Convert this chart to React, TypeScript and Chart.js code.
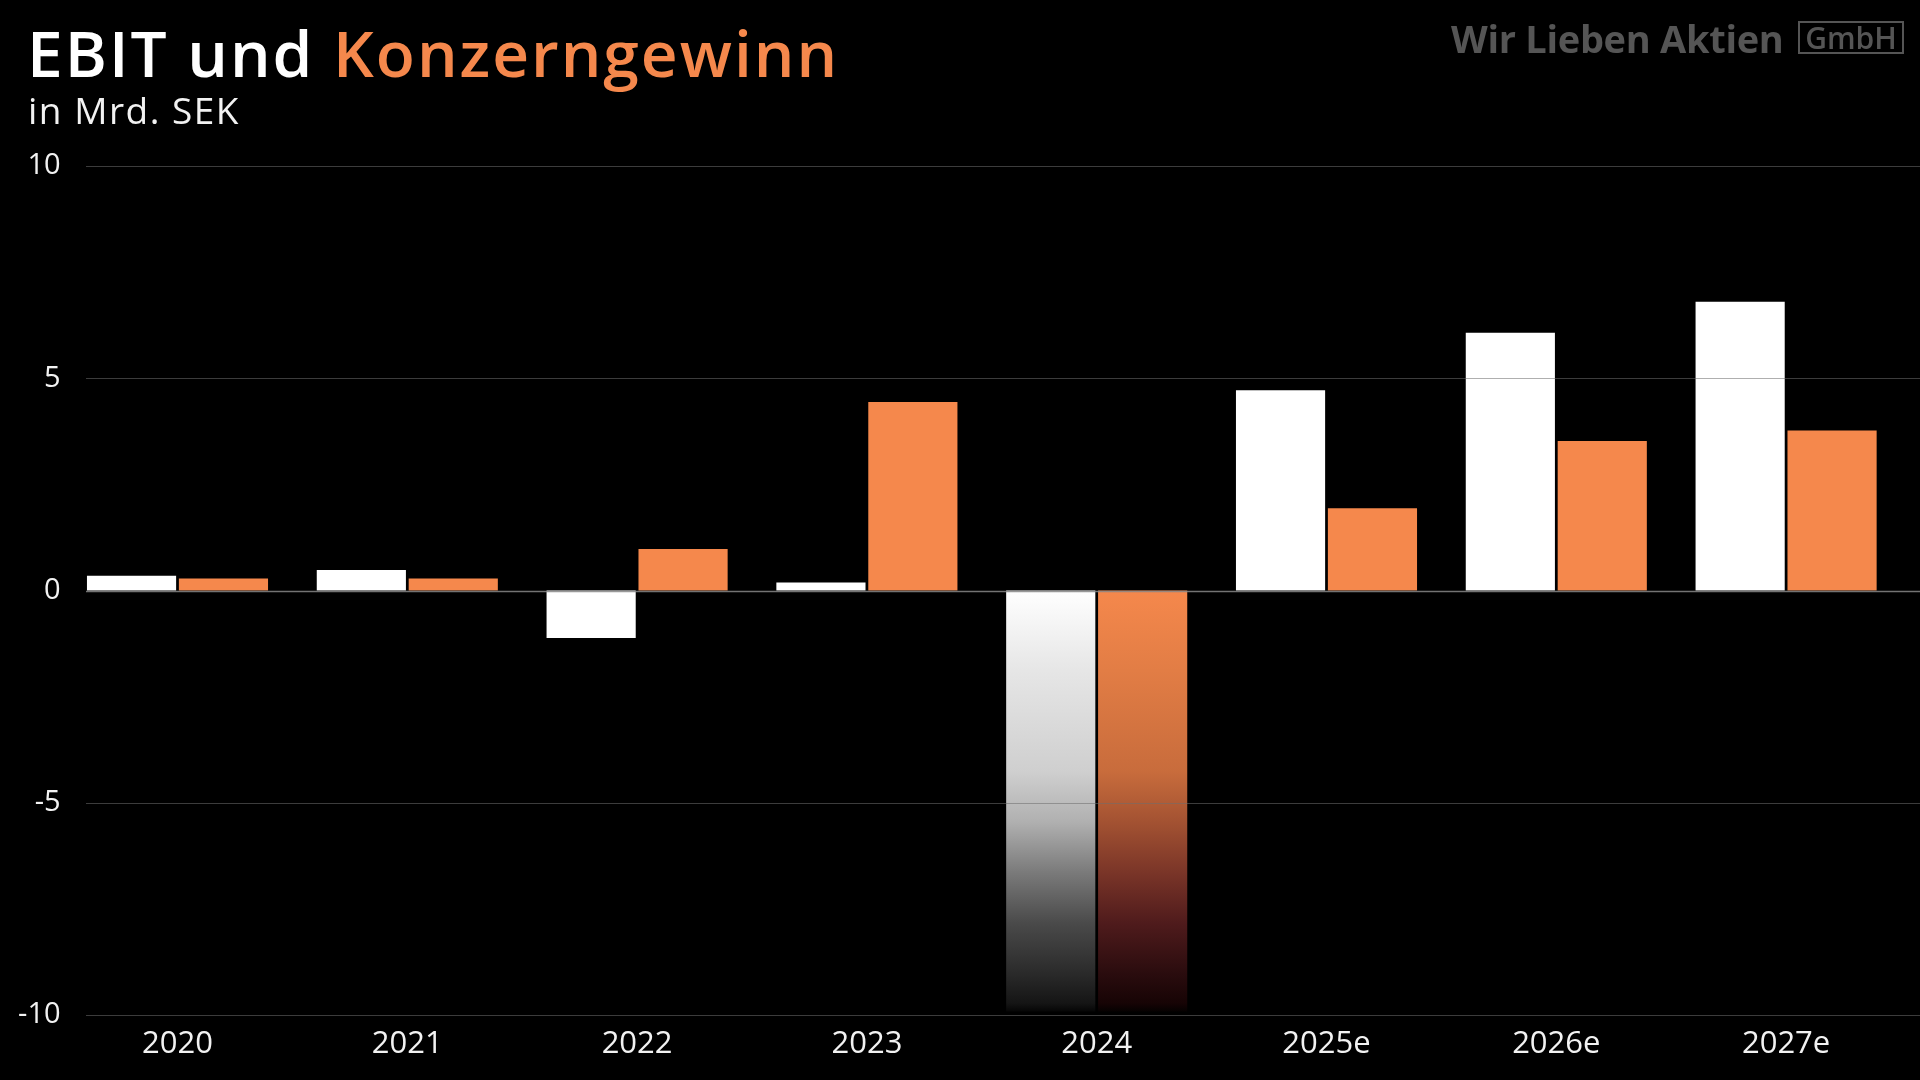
import React, { useEffect, useRef } from "react";
import { Chart, registerables } from "chart.js";

Chart.register(...registerables);

const categories = ["2020", "2021", "2022", "2023", "2024", "2025e", "2026e", "2027e"];
const ebit = [0.35, 0.48, -1.12, 0.19, -9.92, 4.72, 6.07, 6.8];
const konzerngewinn = [0.28, 0.28, 0.98, 4.44, -9.92, 1.94, 3.52, 3.77];
const yTicks = [-10, -5, 0, 5, 10];
const fadedCategories = ["2024"];

const WHITE = "#FFFFFF";
const ORANGE = "#F5884C";
const FONT = '"Open Sans", sans-serif';

const whiteStops: [number, string][] = [
  [0, "#ffffff"],
  [0.19, "#e6e6e6"],
  [0.43, "#cfcfcf"],
  [0.55, "#b0b0b0"],
  [0.67, "#7a7a7a"],
  [0.79, "#4a4a4a"],
  [0.91, "#2a2a2a"],
  [0.98, "#151515"],
  [1, "#050505"],
];
const orangeStops: [number, string][] = [
  [0, "#F5884C"],
  [0.19, "#e27d45"],
  [0.43, "#c86c3c"],
  [0.55, "#a35232"],
  [0.67, "#7a3528"],
  [0.79, "#4f1b1c"],
  [0.91, "#2a0c0e"],
  [0.98, "#170405"],
  [1, "#050101"],
];

function barFill(ctx: any, base: string, stops: [number, string][]) {
  const chart = ctx.chart;
  const label = chart.data.labels[ctx.dataIndex];
  if (!fadedCategories.includes(label)) return base;
  const y = chart.scales.y;
  if (!y) return base;
  const v = ctx.raw as number;
  const y0 = y.getPixelForValue(0);
  const y1 = y.getPixelForValue(v);
  const g = chart.ctx.createLinearGradient(0, y0, 0, y1);
  stops.forEach(([o, c]) => g.addColorStop(o, c));
  return g;
}

const gridPlugin = {
  id: "customGrid",
  afterDatasetsDraw(chart: any) {
    const { ctx } = chart;
    const y = chart.scales.y;
    ctx.save();
    yTicks.forEach((t) => {
      const py = Math.round(y.getPixelForValue(t)) + 0.5;
      ctx.beginPath();
      ctx.strokeStyle = t === 0 ? "rgba(135,135,135,0.85)" : "rgba(110,110,110,0.55)";
      ctx.lineWidth = t === 0 ? 1.6 : 1.2;
      ctx.moveTo(86, py);
      ctx.lineTo(chart.width, py);
      ctx.stroke();
    });
    ctx.restore();
  },
};

export default function App() {
  const ref = useRef<HTMLCanvasElement>(null);

  useEffect(() => {
    document.body.style.margin = "0";
    document.body.style.background = "#000";
    const canvas = ref.current!;
    const chart = new Chart(canvas, {
      type: "bar",
      data: {
        labels: categories,
        datasets: [
          {
            label: "EBIT",
            data: ebit,
            backgroundColor: (c: any) => barFill(c, WHITE, whiteStops),
            borderWidth: 0,
            categoryPercentage: 0.8,
            barPercentage: 0.97,
          },
          {
            label: "Konzerngewinn",
            data: konzerngewinn,
            backgroundColor: (c: any) => barFill(c, ORANGE, orangeStops),
            borderWidth: 0,
            categoryPercentage: 0.8,
            barPercentage: 0.97,
          },
        ],
      },
      options: {
        responsive: false,
        animation: false,
        layout: { padding: { top: 166, right: 19, left: 0, bottom: 0 } },
        plugins: {
          legend: { display: false },
          tooltip: { enabled: false },
        },
        scales: {
          x: {
            grid: { display: false, drawTicks: false },
            border: { display: false },
            ticks: {
              color: "#f2f2f2",
              font: { family: FONT, size: 31, weight: 400 },
              padding: 11,
              maxRotation: 0,
            },
            afterFit: (s: any) => {
              s.height = 65;
            },
          },
          y: {
            min: -10,
            max: 10,
            grid: { display: false, drawTicks: false },
            border: { display: false },
            ticks: {
              stepSize: 5,
              color: "#f2f2f2",
              font: { family: FONT, size: 29, weight: 400 },
              padding: 2,
            },
            afterFit: (s: any) => {
              s.width = 62.6;
            },
          },
        },
      },
      plugins: [gridPlugin],
    });
    return () => chart.destroy();
  }, []);

  return (
    <div
      style={{
        position: "absolute",
        left: 0,
        top: 0,
        width: 1920,
        height: 1080,
        background: "#000",
        overflow: "hidden",
        fontFamily: FONT,
      }}
    >
      <canvas ref={ref} width={1920} height={1080} style={{ position: "absolute", left: 0, top: 0 }} />
      <div
        style={{
          position: "absolute",
          left: 27,
          top: 12,
          fontSize: 64,
          fontWeight: 600,
          lineHeight: "82px",
          whiteSpace: "nowrap",
          letterSpacing: 2,
          color: WHITE,
        }}
      >
        EBIT und <span style={{ color: ORANGE }}>Konzerngewinn</span>
      </div>
      <div
        style={{
          position: "absolute",
          left: 28,
          top: 87,
          fontSize: 37,
          fontWeight: 400,
          lineHeight: "46px",
          letterSpacing: 1.5,
          whiteSpace: "nowrap",
          color: "#f2f2f2",
        }}
      >
        in Mrd. SEK
      </div>
      <div
        style={{
          position: "absolute",
          left: 1451,
          top: 14,
          fontSize: 38,
          fontWeight: 700,
          lineHeight: "48px",
          letterSpacing: -0.3,
          whiteSpace: "nowrap",
          color: "#555555",
        }}
      >
        Wir Lieben Aktien
      </div>
      <div
        style={{
          position: "absolute",
          left: 1798,
          top: 21,
          width: 102,
          height: 29,
          border: "2px solid #555555",
          color: "#555555",
          fontSize: 30,
          fontWeight: 600,
          lineHeight: "29px",
          textAlign: "center",
          whiteSpace: "nowrap",
        }}
      >
        GmbH
      </div>
    </div>
  );
}
